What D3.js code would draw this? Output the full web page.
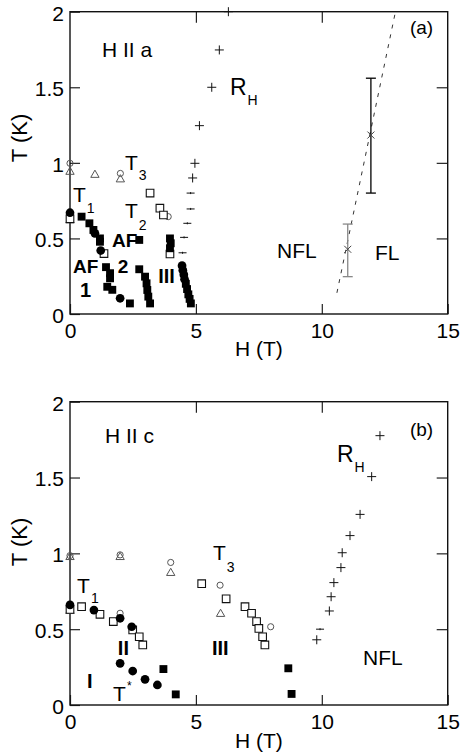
<!DOCTYPE html>
<html>
<head>
<meta charset="utf-8">
<script src="https://cdnjs.cloudflare.com/ajax/libs/d3/7.8.5/d3.min.js"></script>
<style>
  body { margin: 0; background: #fff; }
  svg { display: block; }
  text { font-family: "Liberation Sans", Arial, sans-serif; }
</style>
</head>
<body>
<div id="chart"></div>
<script>
// shared tick values
var hTicks = [0, 5, 10, 15]
var tTicks = [0, 0.5, 1, 1.5, 2]

// panel (a): H || a, points are [H (T), T (K)]
var aFilledCircles = [[0, 0.67], [0.99, 0.534], [1.22, 0.42], [1.99, 0.104],
  [4.45, 0.32], [4.48, 0.29], [4.52, 0.26], [4.55, 0.23]]
var aFilledSquares = [[0.46, 0.644], [0.77, 0.60], [0.93, 0.556], [1.19, 0.50], [1.19, 0.478],
  [1.43, 0.31], [1.59, 0.27], [1.59, 0.236], [1.48, 0.18], [1.68, 0.16], [2.38, 0.07],
  [2.75, 0.49], [2.75, 0.296], [2.98, 0.247], [3.04, 0.203], [3.07, 0.159], [3.11, 0.115], [3.18, 0.07],
  [3.97, 0.50], [4.0, 0.468], [3.97, 0.435],
  [4.6, 0.2], [4.65, 0.165], [4.7, 0.13], [4.75, 0.1], [4.8, 0.07]]
var aOpenSquares = [[0, 0.63], [1.35, 0.40], [3.18, 0.80], [3.57, 0.70], [3.71, 0.655], [3.97, 0.397]]
var aOpenCircles = [[0, 0.997], [2.0, 0.93], [3.9, 0.644], [0, 0.645]]
var aTriangles = [[0, 0.94], [0.99, 0.92], [2.0, 0.89], [0, 0.62]]
var aPlus = [[6.29, 2.0], [5.93, 1.747], [5.63, 1.50], [5.14, 1.246], [4.96, 0.997], [4.87, 0.90]]
var aDash = [[4.79, 0.80], [4.79, 0.695], [4.66, 0.60], [4.53, 0.507], [4.47, 0.405]]
var aErrH = [11.95, 11.03]
var aErrT = [1.184, 0.428]
var aErrLo = [0.80, 0.247]
var aErrHi = [1.56, 0.595]
var aCrossover = [[10.6, 0.14], [12.9, 1.98]]

// panel (b): H || c
var bFilledCircles = [[0, 0.66], [0.95, 0.626], [1.99, 0.572], [2.45, 0.516],
  [1.99, 0.275], [2.49, 0.224], [2.98, 0.169], [3.47, 0.132]]
var bFilledSquares = [[3.71, 0.237], [4.2, 0.07], [8.67, 0.242], [8.8, 0.073]]
var bOpenSquares = [[0, 0.63], [0.46, 0.648], [1.19, 0.598], [1.72, 0.55], [2.49, 0.495], [2.75, 0.45],
  [2.89, 0.396], [5.23, 0.80], [6.2, 0.70], [6.95, 0.648], [7.21, 0.605], [7.41, 0.55],
  [7.5, 0.505], [7.65, 0.45], [7.74, 0.396]]
var bOpenCircles = [[0, 0.985], [1.99, 0.99], [4.0, 0.94], [5.96, 0.79], [1.99, 0.605], [7.97, 0.516]]
var bTriangles = [[0, 0.975], [1.99, 0.975], [4.0, 0.87], [5.98, 0.60], [0, 0.62]]
var bPlus = [[12.31, 1.776], [11.98, 1.506], [11.52, 1.257], [11.12, 1.117], [10.81, 1.004],
  [10.76, 0.906], [10.48, 0.807], [10.37, 0.714], [10.3, 0.62], [9.8, 0.43]]
var bDash = [[9.93, 0.50]]

var svg = d3.select('#chart').append('svg')
  .attr('width', 460)
  .attr('height', 755)

function plus(s) {
  return 'M' + (-s) + ',0H' + s + 'M0,' + (-s) + 'V' + s
}

function drawPanel(p) {
  var x = d3.scaleLinear().domain([0, 15]).range([70, 447.7])
  var y = d3.scaleLinear().domain([0, 2]).range([p.bottom, p.top])
  var g = svg.append('g')

  // axes, ticks point inwards
  function style(ax) {
    ax.select('.domain').remove()
    ax.selectAll('.tick line').attr('stroke', '#222').attr('stroke-width', 1.2)
    ax.selectAll('.tick text').attr('fill', '#000').attr('font-size', 21)
      .attr('font-family', '"Liberation Sans", Arial, sans-serif')
  }
  var left = g.append('g').attr('transform', 'translate(70,0)')
    .call(d3.axisLeft(y).tickValues(tTicks).tickFormat(function (d) { return d })
      .tickSize(-10).tickSizeOuter(0).tickPadding(6))
  style(left)
  left.selectAll('.tick text').attr('dy', '0.4em')
  var bottom = g.append('g').attr('transform', 'translate(0,' + p.bottom + ')')
    .call(d3.axisBottom(x).tickValues(hTicks).tickFormat(function (d) { return d })
      .tickSize(-10).tickSizeOuter(0).tickPadding(9))
  style(bottom)
  var top = g.append('g').attr('transform', 'translate(0,' + p.top + ')')
    .call(d3.axisTop(x).tickValues([5, 10]).tickFormat('').tickSize(-11).tickSizeOuter(0))
  style(top)
  var right = g.append('g').attr('transform', 'translate(447.7,0)')
    .call(d3.axisRight(y).tickValues([0.5, 1, 1.5]).tickFormat('').tickSize(-11).tickSizeOuter(0))
  style(right)

  g.append('rect')
    .attr('x', x(0)).attr('y', y(2))
    .attr('width', x(15) - x(0)).attr('height', y(0) - y(2))
    .attr('fill', 'none').attr('stroke', '#111').attr('stroke-width', 1.4)

  // axis titles
  g.append('text')
    .attr('x', (x(0) + x(15)) / 2).attr('y', p.xlabel)
    .attr('text-anchor', 'middle').attr('font-size', 21)
    .text('H (T)')
  g.append('text')
    .attr('transform', 'translate(27,' + p.ylabel + ') rotate(-90)')
    .attr('text-anchor', 'middle').attr('font-size', 22)
    .text('T (K)')

  function marks(data, shape) {
    return g.append('g').selectAll('path').data(data).join('path')
      .attr('transform', function (d) { return 'translate(' + x(d[0]) + ',' + y(d[1]) + ')' })
      .attr('d', shape)
  }

  // crossover line and error bars
  if (p.line) {
    g.append('path').datum(p.line)
      .attr('d', d3.line().x(function (d) { return x(d[0]) }).y(function (d) { return y(d[1]) }))
      .attr('fill', 'none').attr('stroke', '#333').attr('stroke-width', 1)
      .attr('stroke-dasharray', '4,6')
  }
  if (p.errH) {
    p.errH.forEach(function (h, i) {
      var c = i === 0 ? '#000' : '#888'
      var eb = g.append('g').attr('stroke', c).attr('stroke-width', 1.3)
      eb.append('line').attr('x1', x(h)).attr('x2', x(h)).attr('y1', y(p.errLo[i])).attr('y2', y(p.errHi[i]))
      eb.append('line').attr('x1', x(h) - 5).attr('x2', x(h) + 5).attr('y1', y(p.errLo[i])).attr('y2', y(p.errLo[i]))
      eb.append('line').attr('x1', x(h) - 5).attr('x2', x(h) + 5).attr('y1', y(p.errHi[i])).attr('y2', y(p.errHi[i]))
      eb.append('path')
        .attr('transform', 'translate(' + x(h) + ',' + y(p.errT[i]) + ')')
        .attr('d', 'M-3.5,-3.5L3.5,3.5M-3.5,3.5L3.5,-3.5')
        .attr('stroke', '#444').attr('stroke-width', 1)
    })
  }

  marks(p.triangles, d3.symbol(d3.symbolTriangle, 30))
    .attr('fill', 'none').attr('stroke', '#555').attr('stroke-width', 1)
  marks(p.openCircles, d3.symbol(d3.symbolCircle, 30))
    .attr('fill', 'none').attr('stroke', '#555').attr('stroke-width', 1)
  marks(p.openSquares, d3.symbol(d3.symbolSquare, 58))
    .attr('fill', '#fff').attr('stroke', '#111').attr('stroke-width', 1.1)
  marks(p.filledSquares, d3.symbol(d3.symbolSquare, 62)).attr('fill', '#000')
  marks(p.filledCircles, d3.symbol(d3.symbolCircle, 60)).attr('fill', '#000')
  marks(p.plus, plus(4.5)).attr('stroke', '#111').attr('stroke-width', 1)
  marks(p.dash, 'M-4,0H4M0,-1V1').attr('stroke', '#111').attr('stroke-width', 1)

  return { g: g, x: x, y: y }
}

function label(P, str, h, t, size, bold, sub, subSize, subDy) {
  var tx = P.g.append('text')
    .attr('x', P.x(h)).attr('y', P.y(t))
    .attr('font-size', size)
    .attr('font-weight', bold ? 'bold' : 'normal')
    .text(str)
  if (sub) {
    tx.append('tspan').attr('dx', 1).attr('dy', subDy).attr('font-size', subSize).text(sub)
  }
  return tx
}

var A = drawPanel({
  top: 11.7, bottom: 314, xlabel: 356, ylabel: 138,
  filledCircles: aFilledCircles, filledSquares: aFilledSquares, openSquares: aOpenSquares,
  openCircles: aOpenCircles, triangles: aTriangles, plus: aPlus, dash: aDash,
  errH: aErrH, errT: aErrT, errLo: aErrLo, errHi: aErrHi, line: aCrossover
})
label(A, 'H II a', 1.27, 1.70, 21)
label(A, '(a)', 13.5, 1.853, 19)
label(A, 'R', 6.35, 1.449, 23, false, 'H', 14, 10)
label(A, 'T', 2.18, 0.953, 21, false, '3', 14, 10)
label(A, 'T', 0.12, 0.741, 21, false, '1', 14, 11)
label(A, 'T', 2.18, 0.635, 21, false, '2', 14, 12)
label(A, 'AF', 1.67, 0.443, 19, true)
label(A, 'AF', 0.12, 0.271, 19, true)
label(A, '2', 1.9, 0.271, 19, true)
label(A, '1', 0.4, 0.112, 20, true)
label(A, 'III', 3.5, 0.205, 20, true)
label(A, 'NFL', 8.22, 0.37, 21)
label(A, 'FL', 12.11, 0.357, 21)

var B = drawPanel({
  top: 401.7, bottom: 705, xlabel: 748, ylabel: 542,
  filledCircles: bFilledCircles, filledSquares: bFilledSquares, openSquares: bOpenSquares,
  openCircles: bOpenCircles, triangles: bTriangles, plus: bPlus, dash: bDash
})
label(B, 'H II c', 1.39, 1.728, 21)
label(B, '(b)', 13.5, 1.774, 19)
label(B, 'R', 10.6, 1.602, 23, false, 'H', 14, 10)
label(B, 'T', 5.68, 0.956, 21, false, '3', 14, 12)
label(B, 'T', 0.28, 0.739, 21, false, '1', 14, 10)
label(B, 'II', 1.9, 0.33, 20, true)
label(B, 'III', 5.64, 0.33, 20, true)
label(B, 'I', 0.68, 0.112, 20, true)
label(B, 'T', 1.71, 0.026, 21, false, '*', 12, -11)
label(B, 'NFL', 11.64, 0.264, 21)
</script>
</body>
</html>
